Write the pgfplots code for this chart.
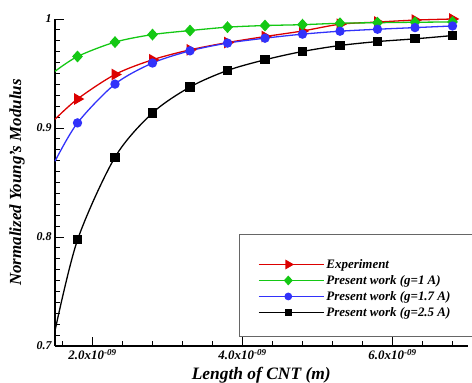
\documentclass[border=0pt]{standalone}
\usepackage{pgfplots}
\pgfplotsset{compat=1.18}
\usepackage{fontspec}
\setmainfont{Liberation Serif}
\definecolor{cred}{RGB}{220,0,0}
\definecolor{cgreen}{RGB}{20,200,20}
\definecolor{cblue}{RGB}{50,50,250}
\begin{document}
\begin{tikzpicture}
\begin{axis}[
  at={(55bp,37bp)}, anchor=south west,
  width=412.5bp, height=327bp, scale only axis,
  xmin=1.5, xmax=7.0, ymin=0.7, ymax=1,
  axis x line*=bottom, axis y line*=left,
  axis line style={line width=1.6pt},
  tick align=inside,
  major tick length=9bp, minor tick length=5bp,
  every tick/.style={black, line width=0.9pt},
  xtick={2,4,6},
  xticklabels={2.0x10\textsuperscript{-09},4.0x10\textsuperscript{-09},6.0x10\textsuperscript{-09}},
  minor xtick={1.6,2.4,2.8,3.2,3.6,4.4,4.8,5.2,5.6,6.4,6.8},
  ytick={0.7,0.8,0.9,1},
  yticklabels={0.7,0.8,0.9,1},
  minor y tick num=9,
  ticklabel style={font=\bfseries\itshape\fontsize{12}{14}\selectfont},
  xticklabel style={font=\bfseries\itshape\fontsize{13}{15}\selectfont},
  xlabel={Length of CNT (m)},
  xlabel style={at={(axis description cs:0.5,-0.101)}, anchor=base, font=\bfseries\itshape\fontsize{17.5}{20}\selectfont},
  ylabel={Normalized Young's Modulus},
  ylabel style={at={(axis description cs:-0.092,0.5)}, anchor=center, rotate=0, font=\bfseries\itshape\fontsize{17}{19}\selectfont},
  clip=false,
  legend style={at={(axis description cs:0.492,0.272)}, anchor=north west, draw=none, fill=none,
    inner sep=0pt, row sep=1.5bp, font=\bfseries\itshape\fontsize{13}{15}\selectfont,
    nodes={inner sep=2bp}},
  legend cell align=left,
  legend image code/.code={\path (0bp,0bp) -- (65bp,0bp); \draw[mark=none] (0bp,0bp) -- (59bp,0bp); \draw[mark indices={1}, /tikz/every mark/.append style={scale=0.8}] plot coordinates {(29.5bp,0bp)};},
]
\addplot[cred, line width=1.3pt, smooth, mark=triangle*, mark size=5.5bp, mark options={rotate=-90, solid}, mark indices={2,3,4,5,6,7,8,9,10,11,12}]
coordinates {(1.5,0.908) (1.8,0.9266) (2.3,0.9491) (2.8,0.9626) (3.3,0.9717) (3.8,0.9784) (4.3,0.9839) (4.8,0.9890) (5.3,0.9952) (5.8,0.9972) (6.3,0.9990) (6.8,1.0000)};
\addlegendentry{Experiment}
\addplot[cgreen, line width=1.3pt, smooth, mark=diamond*, mark size=5bp, mark options={xscale=1.2, solid}, mark indices={2,3,4,5,6,7,8,9,10,11,12}]
coordinates {(1.5,0.952) (1.8,0.9656) (2.3,0.9788) (2.8,0.9857) (3.3,0.9894) (3.8,0.9925) (4.3,0.9940) (4.8,0.9948) (5.3,0.9961) (5.8,0.9966) (6.3,0.9970) (6.8,0.9973)};
\addlegendentry{Present work (g=1 A)}
\addplot[cblue, line width=1.3pt, smooth, mark=*, mark size=4bp, mark options={solid}, mark indices={2,3,4,5,6,7,8,9,10,11,12}]
coordinates {(1.5,0.8695) (1.8,0.9047) (2.3,0.9403) (2.8,0.9596) (3.3,0.9708) (3.8,0.9779) (4.3,0.9824) (4.8,0.9861) (5.3,0.9888) (5.8,0.9906) (6.3,0.9921) (6.8,0.9936)};
\addlegendentry{Present work (g=1.7 A)}
\addplot[black, line width=1.3pt, smooth, mark=square*, mark size=3.9bp, mark options={solid}, mark indices={2,3,4,5,6,7,8,9,10,11,12}]
coordinates {(1.5,0.714) (1.8,0.7973) (2.3,0.8732) (2.8,0.9138) (3.3,0.9376) (3.8,0.9528) (4.3,0.9626) (4.8,0.9702) (5.3,0.9757) (5.8,0.9793) (6.3,0.9818) (6.8,0.9848)};
\addlegendentry{Present work (g=2.5 A)}
\end{axis}
\draw[line width=0.8pt, black!60] (239bp,47bp) rectangle (490bp,149bp);
\pgfresetboundingbox
\path[use as bounding box] (0,0) rectangle (472bp,383bp);
\end{tikzpicture}
\end{document}
